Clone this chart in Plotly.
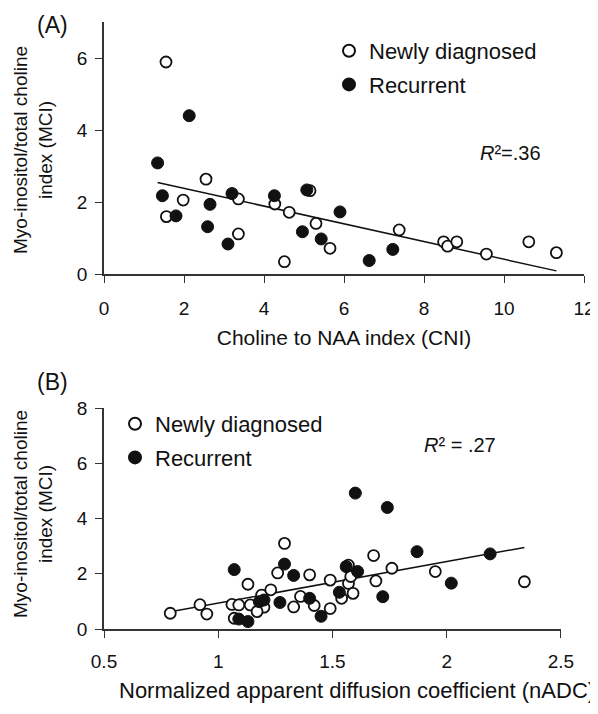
import numpy as np
import plotly.graph_objects as go

# ---------------- Panel A data: CNI vs MCI ----------------
newA_x = [1.55, 2.55, 1.98, 1.56, 3.36, 3.36, 4.27, 4.63, 4.51, 5.15, 5.30, 5.65,
          7.38, 8.49, 8.59, 8.82, 9.56, 10.62, 11.31]
newA_y = [5.89, 2.64, 2.06, 1.60, 2.09, 1.12, 1.95, 1.72, 0.35, 2.32, 1.41, 0.72,
          1.23, 0.90, 0.78, 0.90, 0.56, 0.90, 0.60]
recA_x = [2.13, 1.34, 1.46, 1.80, 2.65, 2.59, 3.10, 3.20, 4.26, 5.07, 4.96, 5.43,
          5.90, 6.63, 7.22]
recA_y = [4.40, 3.09, 2.18, 1.62, 1.94, 1.32, 0.84, 2.24, 2.18, 2.34, 1.18, 0.98,
          1.73, 0.38, 0.69]

# ---------------- Panel B data: nADC vs MCI ----------------
newB_x = [0.79, 0.92, 0.95, 1.13, 1.06, 1.09, 1.07, 1.14, 1.19, 1.20, 1.17, 1.23,
          1.26, 1.29, 1.40, 1.33, 1.36, 1.42, 1.49, 1.49, 1.57, 1.57, 1.58, 1.54,
          1.59, 1.68, 1.69, 1.76, 1.95, 2.34]
newB_y = [0.57, 0.88, 0.54, 1.62, 0.89, 0.87, 0.39, 0.87, 1.23, 0.79, 0.63, 1.42,
          2.03, 3.10, 1.96, 0.80, 1.18, 0.85, 0.74, 1.77, 2.31, 1.65, 1.90, 1.11,
          1.29, 2.66, 1.74, 2.20, 2.08, 1.71]
recB_x = [1.07, 1.09, 1.13, 1.18, 1.20, 1.29, 1.27, 1.33, 1.40, 1.45, 1.56, 1.61,
          1.53, 1.72, 1.60, 1.74, 1.87, 2.19, 2.02]
recB_y = [2.15, 0.36, 0.27, 0.99, 1.05, 2.35, 0.96, 1.94, 1.11, 0.46, 2.26, 2.08,
          1.33, 1.17, 4.92, 4.40, 2.80, 2.72, 1.66]

r2_labels = ["<i>R</i>²=.36", "<i>R</i>² = .27"]
group_names = ["Newly diagnosed", "Recurrent"]
panel_labels = ["(A)", "(B)"]
xtitles = ["Choline to NAA index (CNI)", "Normalized apparent diffusion coefficient (nADC)"]
ytitle = "Myo-inositol/total choline<br>index (MCI)"

FONT = "Liberation Sans, Arial, sans-serif"
INK = "#111111"

W, H = 598, 714
OFF = 8  # page offset of the plot div inside the browser window
L, T = 104 - OFF, 22 - OFF
pw, ph = 480, 607
R, B = W - L - pw, H - T - ph

fig = go.Figure()

open_marker = dict(symbol="circle", size=11, color="white", line=dict(color=INK, width=1.8))
fill_marker = dict(symbol="circle", size=12, color=INK, line=dict(color=INK, width=1))


def add_panel(nx, ny, rx, ry, xa, ya, legend):
    allx = np.array(nx + rx)
    ally = np.array(ny + ry)
    slope, icpt = np.polyfit(allx, ally, 1)
    lx = np.array([allx.min(), allx.max()])
    fig.add_trace(go.Scatter(x=lx, y=icpt + slope * lx, mode="lines",
                             line=dict(color=INK, width=1.5), showlegend=False,
                             xaxis=xa, yaxis=ya, hoverinfo="skip"))
    fig.add_trace(go.Scatter(x=nx, y=ny, mode="markers", name=group_names[0],
                             marker=open_marker, xaxis=xa, yaxis=ya, legend=legend,
                             legendgroup=legend + "a"))
    fig.add_trace(go.Scatter(x=rx, y=ry, mode="markers", name=group_names[1],
                             marker=fill_marker, xaxis=xa, yaxis=ya, legend=legend,
                             legendgroup=legend + "b"))


add_panel(newA_x, newA_y, recA_x, recA_y, "x", "y", "legend")
add_panel(newB_x, newB_y, recB_x, recB_y, "x2", "y2", "legend2")

axis_common = dict(showgrid=False, zeroline=False, showline=True, linecolor="#333",
                   linewidth=1.5, ticks="outside", ticklen=7, tickcolor="#333",
                   tickwidth=1.3, automargin=False,
                   tickfont=dict(family=FONT, size=19, color=INK))

ytitle_font = dict(family=FONT, size=19, color=INK)
xtitle_font = dict(family=FONT, size=21, color=INK)

legend_common = dict(font=dict(family=FONT, size=22, color=INK), bgcolor="rgba(0,0,0,0)",
                     itemsizing="constant", tracegroupgap=2, xanchor="left", yanchor="top")


def to_paper(sx, sy):
    """screen pixel -> paper coords"""
    return (sx - OFF - L) / pw, 1 - (sy - OFF - T) / ph


leg_a = to_paper(329, 30)
leg_b = to_paper(115, 403)

fig.update_layout(
    width=W, height=H,
    margin=dict(l=L, r=R, t=T, b=B),
    paper_bgcolor="white", plot_bgcolor="white",
    font=dict(family=FONT, color=INK),
    xaxis=dict(axis_common, domain=[0, 1], range=[0, 12], dtick=2, anchor="y",
               ticklabelstandoff=9, ticklabeloverflow="allow",
               title=dict(text=xtitles[0], standoff=12, font=xtitle_font)),
    yaxis=dict(axis_common, domain=[0.5844, 1], range=[0, 7], tickvals=[0, 2, 4, 6],
               anchor="x", ticklabelstandoff=4),
    xaxis2=dict(axis_common, domain=[0, 0.952], range=[0.5, 2.5], anchor="y2",
                tickvals=[0.5, 1, 1.5, 2, 2.5], ticktext=["0.5", "1", "1.5", "2", "2.5"],
                ticklabelstandoff=7),
    yaxis2=dict(axis_common, domain=[0, 0.364], range=[0, 8], dtick=2, anchor="x2",
                ticklabelstandoff=4),
    legend=dict(legend_common, x=leg_a[0], y=leg_a[1]),
    legend2=dict(legend_common, x=leg_b[0], y=leg_b[1]),
)

annos = []
for lab, (sx, sy) in zip(panel_labels, [(52, 25), (52, 382)]):
    ax_, ay_ = to_paper(sx, sy)
    annos.append(dict(text=lab, x=ax_, y=ay_, xref="paper", yref="paper", showarrow=False,
                      xanchor="center", yanchor="middle",
                      font=dict(family=FONT, size=23, color=INK)))
# y-axis titles (two-line, rotated)
for (sx, sy) in [(33, 150), (33, 514)]:
    ax_, ay_ = to_paper(sx, sy)
    annos.append(dict(text=ytitle, x=ax_, y=ay_, xref="paper", yref="paper", showarrow=False,
                      textangle=-90, xanchor="center", yanchor="middle", align="center",
                      font=ytitle_font))
bx, by = to_paper(357, 690)
annos.append(dict(text=xtitles[1], x=bx, y=by, xref="paper", yref="paper", showarrow=False,
                  xanchor="center", yanchor="middle", font=dict(family=FONT, size=22, color=INK)))
annos.append(dict(text=r2_labels[0], x=10.16, y=3.36, xref="x", yref="y", showarrow=False,
                  xanchor="center", yanchor="middle", font=dict(family=FONT, size=20, color=INK)))
annos.append(dict(text=r2_labels[1], x=2.056, y=6.67, xref="x2", yref="y2", showarrow=False,
                  xanchor="center", yanchor="middle", font=dict(family=FONT, size=20, color=INK)))
fig.layout.annotations = annos

fig.write_html("out.html")
